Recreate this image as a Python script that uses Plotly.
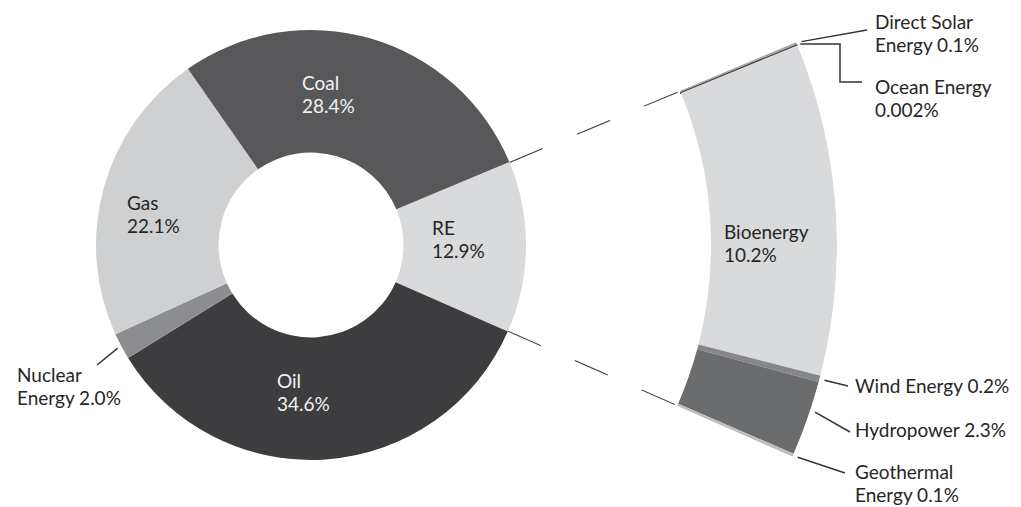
import math
import plotly.graph_objects as go

# The page body keeps the browser's default 8px margin, so the figure is
# sized to fit the remaining window and all screen positions are shifted.
WIN_W, WIN_H = 1021, 507
OFF = 8
W, H = WIN_W - OFF, WIN_H - OFF

# ---------------- data ----------------
sources = ["RE", "Oil", "Nuclear Energy", "Gas", "Coal"]
source_shares = [12.9, 34.6, 2.0, 22.1, 28.4]
source_label_tpl = ["RE<br>{}%", "Oil<br>{}%", "Nuclear<br>Energy {}%", "Gas<br>{}%", "Coal<br>{}%"]

re_sources = ["Direct Solar Energy", "Ocean Energy", "Bioenergy", "Wind Energy", "Hydropower", "Geothermal Energy"]
re_shares = [0.1, 0.002, 10.2, 0.2, 2.3, 0.1]
re_label_tpl = ["Direct Solar<br>Energy {}%", "Ocean Energy<br>{}%", "Bioenergy<br>{}%",
                "Wind Energy {}%", "Hydropower {}%", "Geothermal<br>Energy {}%"]

# ---------------- styles / layout constants (screen px) ----------------
source_colors = ["#d9dadc", "#3d3d3f", "#8c8d8f", "#cfd0d2", "#58585a"]
source_text_colors = ["#262626", "#f2f2f2", "#262626", "#262626", "#f2f2f2"]
source_label_pos = [(430, 239), (275, 392), (15, 386), (125, 214), (300, 94)]  # left x, centre y

re_colors = ["#a7a8aa", "#3a3a3c", "#d9dadc", "#858688", "#6b6c6e", "#bdbec0"]
re_text_colors = ["#262626"] * 6
re_label_pos = [(873, 33), (873, 98), (722, 243), (853, 385), (853, 429), (853, 483)]

CX, CY = 311, 245          # donut centre
R_OUT = 215                # donut outer radius
HOLE = 0.43
START = 22.7               # angle (deg, ccw from east) where RE slice starts
SEG_IN, SEG_OUT = 400, 526 # radii of the zoomed RE ring segment
LEADER_R = 531
FONT = "Lato"
FS = 19
LS = 23                    # line spacing
LINE_COL = "#333333"

TOTAL = sum(source_shares)
DEG = 360.0 / TOTAL


def fmt(v):
    s = f"{v:.3f}".rstrip("0")
    return s + "0" if s.endswith(".") else s


def px(x, y):
    return (x - OFF) / W, 1 - (y - OFF) / H


def polar_px(theta, r):
    a = math.radians(theta)
    return CX + r * math.cos(a), CY - r * math.sin(a)


fig = go.Figure()

# ---- donut ----
x0, y1 = px(CX - R_OUT, CY - R_OUT)
x1, y0 = px(CX + R_OUT, CY + R_OUT)
fig.add_trace(go.Pie(
    labels=sources, values=source_shares, sort=False, direction="clockwise",
    rotation=90 - START, hole=HOLE, textinfo="none", hoverinfo="skip",
    marker=dict(colors=source_colors, line=dict(width=0)),
    domain=dict(x=[x0, x1], y=[y0, y1]),
    showlegend=False,
))

# ---- zoomed RE segment (polar sector) ----
re_total = source_shares[sources.index("RE")]
END = START - re_total * DEG
thetas, widths = [], []
cum = 0.0
for v in re_shares:
    thetas.append(START - (cum + v / 2) * DEG)
    widths.append(v * DEG)
    cum += v

fig.add_trace(go.Barpolar(
    theta=thetas, width=widths, r=[SEG_OUT - SEG_IN] * len(re_shares), base=[SEG_IN] * len(re_shares),
    marker=dict(color=re_colors,
                line=dict(color=re_colors, width=[1.8 if v < 0.01 else 0 for v in re_shares])),
    hoverinfo="skip", showlegend=False, subplot="polar",
))

# dashed connectors from RE slice edges to the segment
for th in (START, END):
    fig.add_trace(go.Scatterpolar(
        r=[R_OUT, SEG_IN], theta=[th, th], mode="lines",
        line=dict(color="#3a3a3a", width=2, dash="36px,37px"),
        hoverinfo="skip", showlegend=False, subplot="polar",
    ))

px0, py_top = px(CX, CY - SEG_OUT * math.sin(math.radians(START)))
px1, py_bot = px(CX + SEG_OUT, CY + SEG_OUT * math.sin(math.radians(-END)))
dom_x = [px0, px1]
dom_y = [py_bot, py_top]

annotations = []
shapes = []


def add_label(text, left, cy, color):
    lines = text.split("<br>")
    n = len(lines)
    for i, ln in enumerate(lines):
        y = cy - (n - 1) / 2 * LS + i * LS
        xx, yy = px(left, y)
        annotations.append(dict(x=xx, y=yy, xref="paper", yref="paper", text=ln, showarrow=False,
                                xanchor="left", yanchor="middle",
                                font=dict(family=FONT, size=FS, color=color)))


for tpl, v, pos, col in zip(source_label_tpl, source_shares, source_label_pos, source_text_colors):
    add_label(tpl.format(fmt(v)), pos[0], pos[1], col)
for tpl, v, pos, col in zip(re_label_tpl, re_shares, re_label_pos, re_text_colors):
    add_label(tpl.format(fmt(v)), pos[0], pos[1], col)


def line_shape(points):
    path = ""
    for i, (x, y) in enumerate(points):
        xx, yy = px(x, y)
        path += ("M" if i == 0 else " L") + f"{xx:.5f},{yy:.5f}"
    shapes.append(dict(type="path", path=path, xref="paper", yref="paper",
                       line=dict(color=LINE_COL, width=1.5)))


# leader: nuclear
nuc_idx = sources.index("Nuclear Energy")
nuc_mid = START - (sum(source_shares[:nuc_idx]) + source_shares[nuc_idx] / 2) * DEG
line_shape([polar_px(nuc_mid, R_OUT + 4), (97, 365)])

# leaders: RE components
cum = 0.0
mids = []
for v in re_shares:
    mids.append(START - (cum + v / 2) * DEG)
    cum += v
s = polar_px(mids[0], LEADER_R)
line_shape([s, (867, 30)])
s = polar_px(mids[1], LEADER_R - 2)
line_shape([s, (840, s[1]), (840, 82), (862, 82)])
line_shape([polar_px(mids[3], LEADER_R), (848, 386)])
line_shape([polar_px(mids[4] + 0.9, LEADER_R), (850, 432)])
line_shape([polar_px(mids[5], LEADER_R), (845, 473)])

fig.update_layout(
    width=W, height=H, margin=dict(l=0, r=0, t=0, b=0),
    paper_bgcolor="white", plot_bgcolor="white", showlegend=False,
    font=dict(family=FONT, size=FS, color="#262626"),
    polar=dict(
        domain=dict(x=dom_x, y=dom_y),
        sector=[END, START], hole=0, bgcolor="rgba(0,0,0,0)",
        radialaxis=dict(range=[0, SEG_OUT], visible=False, showgrid=False),
        angularaxis=dict(visible=False, showgrid=False, direction="counterclockwise", rotation=0),
    ),
    annotations=annotations, shapes=shapes,
)

fig.write_html("out.html")
